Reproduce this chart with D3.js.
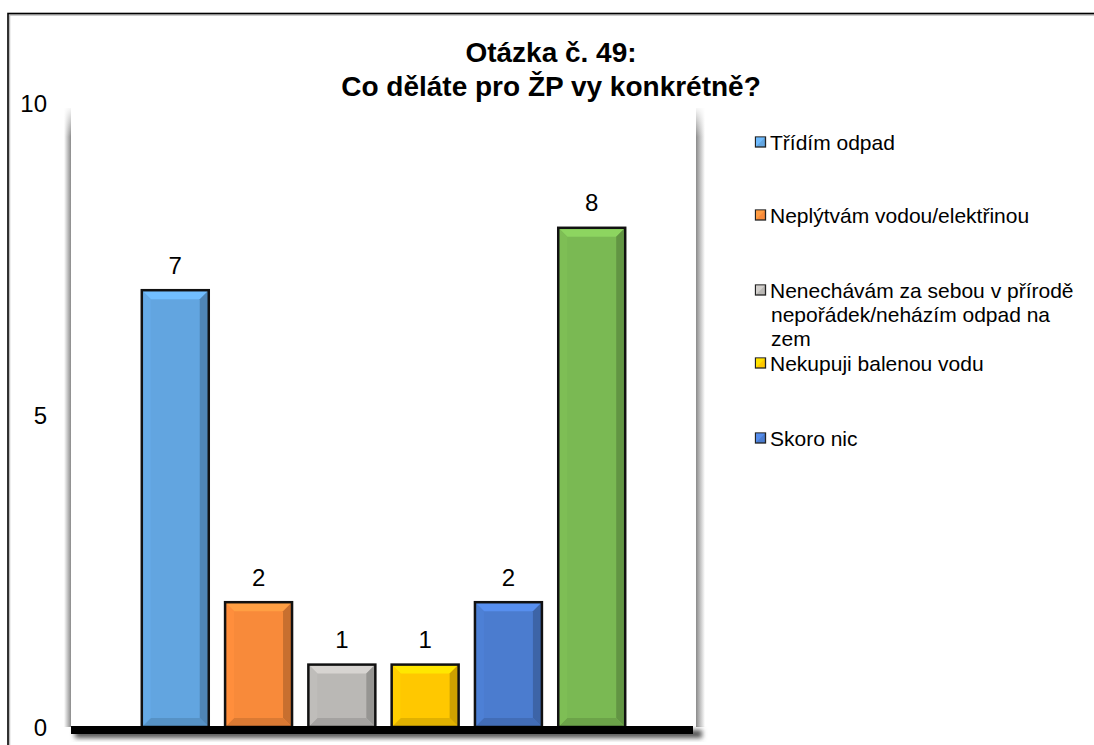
<!DOCTYPE html>
<html><head><meta charset="utf-8">
<script src="https://cdn.jsdelivr.net/npm/d3@7"></script>
<style>body{margin:0;background:#fff}svg{display:block}text{font-family:"Liberation Sans",Arial,sans-serif}</style>
</head><body><svg id="c" width="1094" height="745"></svg>
<script>
const categories = ["Třídím odpad","Neplýtvám vodou/elektřinou","Nenechávám za sebou v přírodě nepořádek/neházím odpad na zem","Nekupuji balenou vodu","Skoro nic","Jiné"];
const values = [7,2,1,1,2,8];
const colors = ["#62a5e0","#f88a3a","#bab8b5","#ffc800","#4b7ccf","#7ab953"];
const legendLines = [["Třídím odpad"],["Neplýtvám vodou/elektřinou"],["Nenechávám za sebou v přírodě","nepořádek/neházím odpad na","zem"],["Nekupuji balenou vodu"],["Skoro nic"]];
const legendY = [142,215,290,363,438];
const yTicks = [0,5,10];
const titleLines = ["Otázka č. 49:","Co děláte pro ŽP vy konkrétně?"];

const svg = d3.select("#c");
const defs = svg.append("defs");
const plot = {x0:71, x1:696, top:103, bottom:727};

const blur = defs.append("filter").attr("id","blur").attr("x","-20%").attr("y","-50%").attr("width","140%").attr("height","200%");
blur.append("feGaussianBlur").attr("stdDeviation",2.5);

// outer frame
svg.append("rect").attr("x",9.5).attr("y",15).attr("width",1200).attr("height",800)
  .attr("fill","none").attr("stroke","#bbb").attr("stroke-width",1.5);
svg.append("rect").attr("x",8).attr("y",13.5).attr("width",1200).attr("height",800)
  .attr("fill","none").attr("stroke","#000").attr("stroke-width",1.6);

// plot shadows
const lg = defs.append("linearGradient").attr("id","shL").attr("x1","0").attr("x2","1");
lg.append("stop").attr("offset","0").attr("stop-color","#fff");
lg.append("stop").attr("offset","1").attr("stop-color","#8a8a8a");
const rg = defs.append("linearGradient").attr("id","shR").attr("x1","0").attr("x2","1");
rg.append("stop").attr("offset","0").attr("stop-color","#8a8a8a");
rg.append("stop").attr("offset","1").attr("stop-color","#fff");
const vg = defs.append("linearGradient").attr("id","shV").attr("x1","0").attr("x2","0").attr("y1","0").attr("y2","1");
vg.append("stop").attr("offset","0").attr("stop-color","#fff");
vg.append("stop").attr("offset","0.05").attr("stop-color","#fff").attr("stop-opacity",0);
vg.append("stop").attr("offset","1").attr("stop-color","#fff").attr("stop-opacity",0);
svg.append("rect").attr("x",plot.x0-7).attr("y",108).attr("width",7).attr("height",plot.bottom-108).attr("fill","url(#shL)");
svg.append("rect").attr("x",plot.x1).attr("y",108).attr("width",9).attr("height",plot.bottom-108).attr("fill","url(#shR)");
svg.append("rect").attr("x",plot.x0-8).attr("y",106).attr("width",plot.x1-plot.x0+18).attr("height",plot.bottom-106).attr("fill","url(#shV)");

const x = d3.scaleBand().domain(categories).range([plot.x0,plot.x1]).paddingInner(0.196).paddingOuter(0.85);
const y = d3.scaleLinear().domain([0,10]).range([plot.bottom,plot.top]);

// y tick labels
svg.append("g").selectAll("text").data(yTicks).join("text")
  .attr("x",47).attr("y",d=>y(d)).attr("dy","0.36em").attr("text-anchor","end")
  .attr("font-size",24).attr("fill","#000").text(d=>d);

// bars with bevel
const g = svg.append("g");
categories.forEach((c,i)=>{
  const x0 = x(c), x1 = x(c)+x.bandwidth(), y0 = y(values[i]), y1 = y(0);
  const col = d3.color(colors[i]);
  const b = Math.min(9,(y1-y0)/2,(x1-x0)/2);
  const bg = g.append("g");
  bg.append("rect").attr("x",x0).attr("y",y0).attr("width",x1-x0).attr("height",y1-y0).attr("fill",col);
  const poly = (pts,f)=>bg.append("polygon").attr("points",pts.map(p=>p.join(",")).join(" ")).attr("fill",f);
  poly([[x0,y0],[x1,y0],[x1-b,y0+b],[x0+b,y0+b]], col.brighter(0.4));
  poly([[x1,y0],[x1,y1],[x1-b,y1-b],[x1-b,y0+b]], col.darker(0.6));
  poly([[x0,y1],[x1,y1],[x1-b,y1-b],[x0+b,y1-b]], col.darker(0.35));
  poly([[x0,y0],[x0+b,y0+b],[x0+b,y1-b],[x0,y1]], col.brighter(0.08));
  bg.append("rect").attr("x",x0).attr("y",y0).attr("width",x1-x0).attr("height",y1-y0)
    .attr("fill","none").attr("stroke","#111").attr("stroke-width",2.5);
});

// data labels
svg.append("g").selectAll("text").data(values).join("text")
  .attr("x",(d,i)=>x(categories[i])+x.bandwidth()/2).attr("y",d=>y(d)-25)
  .attr("dy","0.36em").attr("text-anchor","middle").attr("font-size",24).text(d=>d);

// axis line with shadow
svg.append("rect").attr("x",plot.x0+4).attr("y",plot.bottom+3).attr("width",plot.x1-plot.x0+2).attr("height",8)
  .attr("fill","#555").attr("filter","url(#blur)");
svg.append("rect").attr("x",plot.x0).attr("y",plot.bottom-1).attr("width",plot.x1-plot.x0-3).attr("height",8).attr("fill","#000");

// title
svg.append("g").selectAll("text").data(titleLines).join("text")
  .attr("x",551).attr("y",(d,i)=>62+i*34).attr("text-anchor","middle")
  .attr("font-size",28).attr("font-weight","bold").text(d=>d);

// legend
const lgG = svg.append("g");
legendLines.forEach((lines,i)=>{
  const yy = legendY[i];
  const col = d3.color(colors[i]);
  const sq = lgG.append("g");
  sq.append("rect").attr("x",755.5).attr("y",yy-5).attr("width",10).attr("height",10).attr("fill",col).attr("stroke","#222").attr("stroke-width",1.3);
  sq.append("polygon").attr("points",`${756},${yy-4.5} ${765},${yy-4.5} ${756},${yy+4.5}`).attr("fill",col.brighter(0.35));
  lines.forEach((t,j)=>{
    lgG.append("text").attr("x",j===0?770:771).attr("y",yy+j*24).attr("dy","0.36em").attr("font-size",21).text(t);
  });
});
</script></body></html>
